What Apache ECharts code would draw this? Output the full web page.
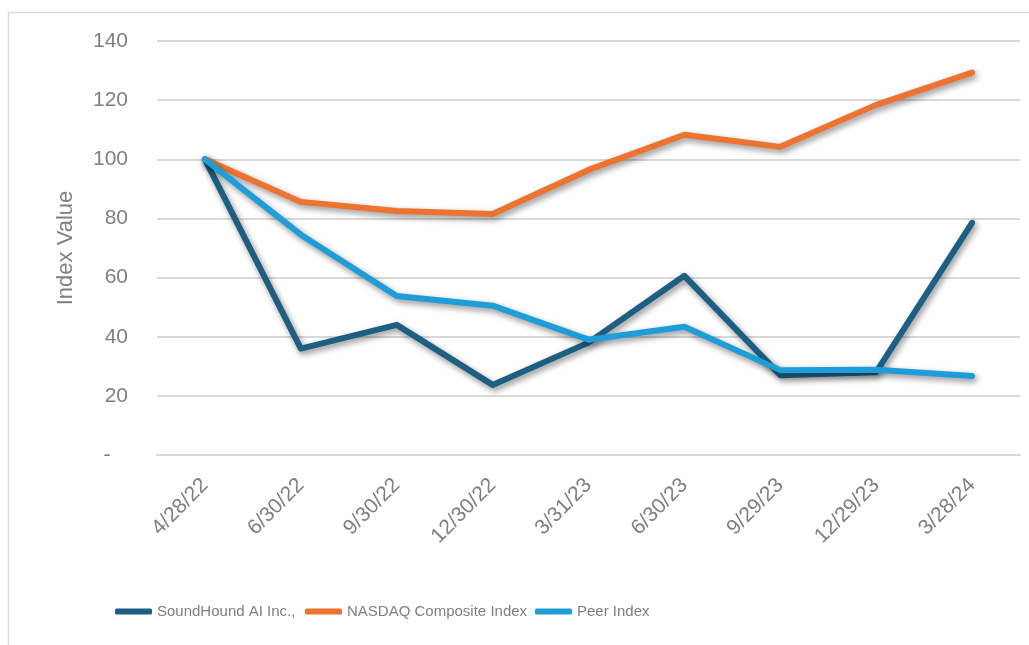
<!DOCTYPE html>
<html>
<head>
<meta charset="utf-8">
<script src="https://cdn.jsdelivr.net/npm/echarts@6/dist/echarts.min.js"></script>
<style>
  html, body { margin: 0; padding: 0; background: #fff; }
  #chart { width: 1029px; height: 645px; }
</style>
</head>
<body>
<div id="chart"></div>
<script>
const dates = ['4/28/22', '6/30/22', '9/30/22', '12/30/22', '3/31/23', '6/30/23', '9/29/23', '12/29/23', '3/28/24']
const soundHound = [100, 36, 44, 23.7, 38, 60.6, 27, 28, 78.5]
const nasdaq = [100, 85.6, 82.5, 81.5, 96.4, 108.3, 104.2, 118.4, 129.3]
const peer = [100, 74.5, 53.8, 50.5, 39, 43.4, 28.7, 28.8, 26.7]

const grey = '#7f7f7f'
const font = "'Liberation Sans', Arial, sans-serif"

function lineSeries (name, data, color) {
  return {
    name: name,
    type: 'line',
    data: data,
    symbol: 'none',
    color: color,
    lineStyle: {
      color: color,
      width: 6,
      cap: 'round',
      join: 'round',
      shadowColor: 'rgba(0,0,0,0.45)',
      shadowBlur: 6,
      shadowOffsetX: 2,
      shadowOffsetY: 3
    },
    emphasis: { disabled: true }
  }
}

// one legend block per series so each sits where the original puts it
function legendAt (left, name) {
  return {
    left: left,
    top: 599,
    itemWidth: 37,
    itemHeight: 6,
    icon: 'roundRect',
    textStyle: { color: grey, fontSize: 15, fontFamily: font },
    data: [name]
  }
}

const myChart = echarts.init(document.getElementById('chart'), null, { renderer: 'canvas' })
myChart.setOption({
  animation: false,
  backgroundColor: '#fff',
  graphic: [{
    type: 'rect',
    shape: { x: 8.5, y: 12.5, width: 1040, height: 660 },
    style: { fill: 'none', stroke: '#d9d9d9', lineWidth: 1.5 },
    z: -1
  }],
  grid: { left: 157, right: 9, top: 41, bottom: 190 },
  legend: [
    legendAt(110, 'SoundHound AI Inc.,'),
    legendAt(300, 'NASDAQ Composite Index'),
    legendAt(530, 'Peer Index')
  ],
  xAxis: {
    type: 'category',
    data: dates,
    boundaryGap: true,
    axisLine: { lineStyle: { color: '#d9d9d9', width: 2 } },
    axisTick: { show: false },
    axisLabel: { rotate: 45, margin: 27, color: grey, fontSize: 21, fontFamily: font, interval: 0 }
  },
  yAxis: {
    type: 'value',
    min: 0,
    max: 140,
    interval: 20,
    name: 'Index Value',
    nameLocation: 'middle',
    nameGap: 80,
    nameTextStyle: { color: grey, fontSize: 22, fontFamily: font },
    axisLine: { show: false },
    axisTick: { show: false },
    splitLine: { lineStyle: { color: '#d9d9d9', width: 2 } },
    axisLabel: {
      margin: 29,
      color: grey,
      fontSize: 21,
      fontFamily: font,
      formatter: function (v) { return v === 0 ? '-   ' : String(v) }
    }
  },
  series: [
    lineSeries('SoundHound AI Inc.,', soundHound, '#1c5f83'),
    lineSeries('NASDAQ Composite Index', nasdaq, '#ec7330'),
    lineSeries('Peer Index', peer, '#1f9dd8')
  ]
})
</script>
</body>
</html>
